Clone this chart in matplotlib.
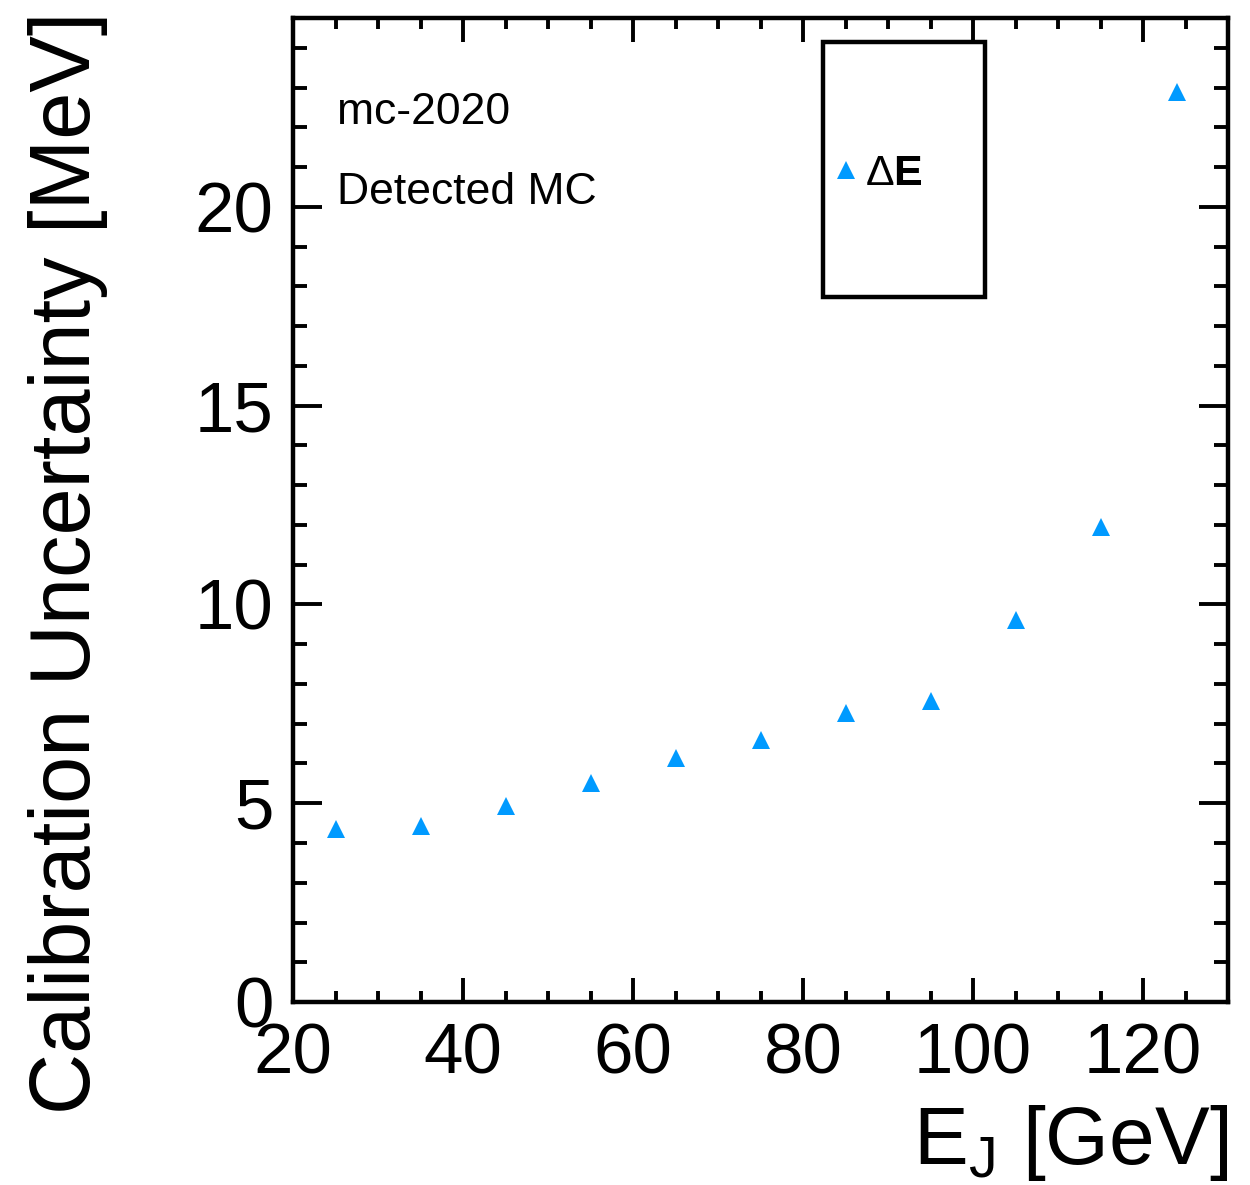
import matplotlib
matplotlib.use("Agg")
import matplotlib.pyplot as plt
from matplotlib.patches import Rectangle
from matplotlib.ticker import MultipleLocator

plt.rcParams['font.family'] = ['Liberation Sans', 'DejaVu Sans']
plt.rcParams['mathtext.fontset'] = 'custom'
plt.rcParams['mathtext.rm'] = 'Liberation Sans'
plt.rcParams['mathtext.bf'] = 'Liberation Sans:bold'

energy = [25, 35, 45, 55, 65, 75, 85, 95, 105, 115, 124]
uncertainty = [4.36, 4.42, 4.93, 5.52, 6.14, 6.58, 7.28, 7.57, 9.62, 11.94, 22.9]
series_label = r"$\mathrm{\Delta}$E"
texts = ["mc-2020", "Detected MC"]
xlabel = r"E$_{\mathregular{J}}$ [GeV]"
ylabel = "Calibration Uncertainty [MeV]"
color = "#009AFF"

fig = plt.figure(figsize=(12.5, 11.85), dpi=100)
ax = fig.add_axes([0.2344, 0.1544, 0.7480, 0.8304])

ax.plot(energy, uncertainty, linestyle='none', marker='^', markersize=12.5,
        color=color, markeredgewidth=0, label=series_label)

ax.set_xlim(20, 130)
ax.set_ylim(0, 24.75)
ax.xaxis.set_major_locator(MultipleLocator(20))
ax.xaxis.set_minor_locator(MultipleLocator(5))
ax.yaxis.set_major_locator(MultipleLocator(5))
ax.yaxis.set_minor_locator(MultipleLocator(1))

for s in ax.spines.values():
    s.set_linewidth(3.2)

ax.tick_params(axis='both', which='both', direction='in', top=True, right=True)
ax.tick_params(axis='x', which='major', length=17, width=2.8, labelsize=51, pad=15)
ax.tick_params(axis='x', which='minor', length=8, width=2.8)
ax.tick_params(axis='y', which='major', length=21, width=2.8, labelsize=51, pad=14)
ax.tick_params(axis='y', which='minor', length=10, width=2.8)

ax.set_ylabel(ylabel, fontsize=61, ha='right')
ax.yaxis.set_label_coords(-0.198, 1.006)
ax.set_xlabel(xlabel, fontsize=59, ha='right')
ax.xaxis.set_label_coords(1.0, -0.103)

ax.text(0.047, 0.904, texts[0], transform=ax.transAxes, fontsize=32, va='center')
ax.text(0.047, 0.823, texts[1], transform=ax.transAxes, fontsize=32, va='center')

ax.add_patch(Rectangle((0.567, 0.7165), 0.173, 0.259, transform=ax.transAxes,
                       fill=False, lw=3.2, edgecolor='black', zorder=5))
leg = ax.legend(loc='center left', bbox_to_anchor=(0.561, 0.841), frameon=False,
                prop={'size': 31, 'weight': 'bold'}, handlelength=0.7,
                handletextpad=0.1, borderaxespad=0, borderpad=0.3, numpoints=1)

fig.savefig("out.png", dpi=100)
